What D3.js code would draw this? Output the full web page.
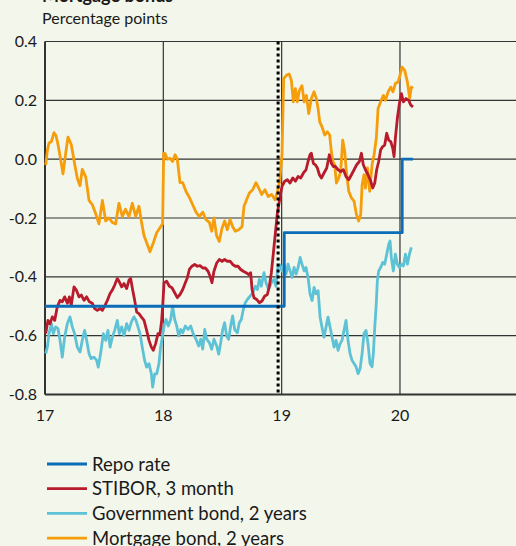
<!DOCTYPE html>
<html>
<head>
<meta charset="utf-8">
<script src="https://cdn.jsdelivr.net/npm/d3@7"></script>
<style>
    body { margin: 0; background: #f3f6ea; }
    #chart-area { width: 516px; height: 546px; }
    text { font-family: Lato, "Open Sans", sans-serif; fill: #1a1a1a; }
</style>
</head>
<body>
<div id="chart-area"></div>
<script>

// x values are decimal years (17 = start of 2017), y values in percent
var repoX = [17.0, 19.022, 20.019, 20.11];
var repoY = [-0.5, -0.25, 0.0, 0.0];

var stiborX = [17.006, 17.025, 17.042, 17.062, 17.082, 17.104, 17.127, 17.146, 17.166, 17.189, 17.206, 17.222, 17.245, 17.265, 17.287, 17.307, 17.33, 17.352, 17.375, 17.4, 17.42, 17.442, 17.465, 17.485, 17.507, 17.527, 17.55, 17.569, 17.589, 17.611, 17.628, 17.648, 17.668, 17.69, 17.71, 17.724, 17.741, 17.758, 17.775, 17.794, 17.814, 17.837, 17.859, 17.879, 17.899, 17.915, 17.935, 17.955, 17.972, 17.986, 17.996,
    18.006, 18.028, 18.051, 18.073, 18.096, 18.118, 18.141, 18.164, 18.186, 18.203, 18.22, 18.242, 18.265, 18.288, 18.31, 18.333, 18.355, 18.378, 18.395, 18.411, 18.428, 18.451, 18.473, 18.496, 18.518, 18.541, 18.564, 18.586, 18.609, 18.631, 18.654, 18.676, 18.699, 18.721, 18.738, 18.75, 18.766, 18.789, 18.811, 18.834, 18.856, 18.879, 18.896, 18.913, 18.93, 18.947, 18.964, 18.98,
    19.003, 19.026, 19.048, 19.071, 19.094, 19.116, 19.139, 19.161, 19.184, 19.206, 19.223, 19.24, 19.251, 19.268, 19.285, 19.302, 19.319, 19.336, 19.358, 19.381, 19.403, 19.42, 19.437, 19.454, 19.477, 19.499, 19.522, 19.544, 19.567, 19.59, 19.612, 19.634, 19.657, 19.674, 19.69, 19.708, 19.73, 19.753, 19.77, 19.787, 19.803, 19.82, 19.837, 19.854, 19.871, 19.888, 19.905, 19.922, 19.939, 19.95, 19.961, 19.978, 19.995, 20.012, 20.029, 20.051, 20.074, 20.091, 20.11];
var stiborY = [-0.593, -0.548, -0.56, -0.536, -0.548, -0.502, -0.48, -0.485, -0.468, -0.49, -0.468, -0.497, -0.434, -0.445, -0.468, -0.462, -0.48, -0.468, -0.485, -0.49, -0.508, -0.514, -0.508, -0.514, -0.497, -0.48, -0.457, -0.445, -0.428, -0.406, -0.417, -0.434, -0.423, -0.44, -0.411, -0.406, -0.445, -0.48, -0.52, -0.525, -0.536, -0.548, -0.582, -0.616, -0.639, -0.65, -0.627, -0.593, -0.593, -0.548, -0.49,
    -0.42, -0.415, -0.432, -0.437, -0.454, -0.471, -0.46, -0.443, -0.42, -0.403, -0.375, -0.364, -0.358, -0.364, -0.362, -0.37, -0.37, -0.381, -0.398, -0.42, -0.381, -0.353, -0.341, -0.347, -0.341, -0.347, -0.347, -0.358, -0.364, -0.364, -0.375, -0.381, -0.386, -0.392, -0.386, -0.443, -0.471, -0.477, -0.488, -0.482, -0.466, -0.46, -0.432, -0.386, -0.319, -0.251, -0.183, -0.145,
    -0.092, -0.075, -0.07, -0.081, -0.064, -0.075, -0.059, -0.064, -0.047, -0.036, -0.008, 0.015, 0.02, -0.014, -0.019, -0.03, -0.053, -0.064, -0.047, -0.03, 0.015, -0.014, -0.025, -0.025, -0.036, -0.042, -0.036, -0.059, -0.07, -0.053, -0.036, -0.019, -0.008, 0.02, -0.019, -0.036, -0.053, -0.075, -0.098, -0.081, -0.036, -0.008, 0.032, 0.043, 0.048, 0.088, 0.065, 0.06, 0.037, 0.009, 0.071, 0.139, 0.189, 0.223, 0.195, 0.206, 0.2, 0.184, 0.178];

var govX = [17.006, 17.02, 17.034, 17.054, 17.07, 17.09, 17.11, 17.127, 17.146, 17.166, 17.189, 17.211, 17.231, 17.25, 17.273, 17.296, 17.315, 17.335, 17.352, 17.372, 17.39, 17.414, 17.437, 17.45, 17.47, 17.493, 17.513, 17.532, 17.55, 17.569, 17.589, 17.611, 17.628, 17.648, 17.668, 17.69, 17.71, 17.73, 17.752, 17.769, 17.786, 17.803, 17.822, 17.842, 17.859, 17.879, 17.899, 17.91, 17.927, 17.944, 17.963, 17.977, 17.994,
    18.006, 18.023, 18.042, 18.062, 18.079, 18.096, 18.113, 18.13, 18.147, 18.164, 18.186, 18.209, 18.231, 18.254, 18.276, 18.299, 18.316, 18.333, 18.35, 18.366, 18.389, 18.409, 18.428, 18.451, 18.468, 18.485, 18.502, 18.518, 18.535, 18.552, 18.569, 18.586, 18.603, 18.626, 18.642, 18.659, 18.676, 18.693, 18.71, 18.733, 18.755, 18.778, 18.795, 18.811, 18.828, 18.851, 18.868, 18.89, 18.913, 18.935, 18.952, 18.969, 18.986,
    19.003, 19.02, 19.037, 19.054, 19.071, 19.088, 19.105, 19.122, 19.139, 19.156, 19.172, 19.19, 19.206, 19.223, 19.24, 19.257, 19.274, 19.29, 19.308, 19.325, 19.341, 19.358, 19.375, 19.392, 19.409, 19.426, 19.443, 19.46, 19.477, 19.494, 19.51, 19.527, 19.544, 19.561, 19.578, 19.595, 19.612, 19.629, 19.646, 19.663, 19.68, 19.696, 19.713, 19.73, 19.747, 19.764, 19.775, 19.787, 19.798, 19.809, 19.82, 19.837, 19.854, 19.871, 19.888, 19.905, 19.916, 19.927, 19.944, 19.961, 19.978, 19.995, 20.012, 20.029, 20.046, 20.063, 20.08, 20.096];
var govY = [-0.661, -0.639, -0.593, -0.559, -0.593, -0.57, -0.576, -0.616, -0.673, -0.605, -0.559, -0.536, -0.57, -0.593, -0.639, -0.656, -0.616, -0.582, -0.616, -0.661, -0.678, -0.673, -0.684, -0.707, -0.661, -0.593, -0.616, -0.582, -0.639, -0.605, -0.582, -0.548, -0.593, -0.57, -0.6, -0.559, -0.582, -0.553, -0.536, -0.548, -0.57, -0.593, -0.639, -0.684, -0.707, -0.695, -0.73, -0.775, -0.73, -0.73, -0.695, -0.639, -0.6,
    -0.567, -0.545, -0.567, -0.545, -0.5, -0.545, -0.567, -0.601, -0.579, -0.59, -0.567, -0.579, -0.567, -0.595, -0.612, -0.635, -0.612, -0.646, -0.579, -0.612, -0.624, -0.646, -0.612, -0.635, -0.663, -0.624, -0.579, -0.556, -0.601, -0.612, -0.567, -0.533, -0.579, -0.59, -0.556, -0.545, -0.511, -0.488, -0.477, -0.466, -0.454, -0.432, -0.443, -0.409, -0.432, -0.386, -0.42, -0.443, -0.42, -0.409, -0.432, -0.364, -0.36,
    -0.38, -0.357, -0.391, -0.357, -0.38, -0.402, -0.368, -0.391, -0.368, -0.334, -0.357, -0.38, -0.368, -0.402, -0.458, -0.481, -0.436, -0.458, -0.447, -0.537, -0.571, -0.605, -0.571, -0.537, -0.571, -0.605, -0.639, -0.616, -0.65, -0.627, -0.616, -0.582, -0.548, -0.616, -0.661, -0.684, -0.695, -0.706, -0.729, -0.712, -0.661, -0.593, -0.582, -0.627, -0.695, -0.706, -0.661, -0.571, -0.503, -0.413, -0.38, -0.368, -0.351, -0.357, -0.323, -0.289, -0.278, -0.334, -0.38, -0.323, -0.357, -0.368, -0.357, -0.363, -0.323, -0.357, -0.323, -0.3];

var mortX = [17.006, 17.02, 17.034, 17.054, 17.076, 17.093, 17.11, 17.132, 17.152, 17.175, 17.194, 17.222, 17.25, 17.273, 17.296, 17.315, 17.344, 17.372, 17.4, 17.428, 17.456, 17.485, 17.513, 17.54, 17.569, 17.597, 17.625, 17.654, 17.68, 17.71, 17.738, 17.766, 17.794, 17.814, 17.837, 17.865, 17.887, 17.915, 17.944, 17.977, 17.994,
    18.003, 18.014, 18.034, 18.056, 18.079, 18.099, 18.118, 18.141, 18.164, 18.192, 18.22, 18.248, 18.276, 18.304, 18.333, 18.36, 18.389, 18.409, 18.428, 18.45, 18.473, 18.496, 18.518, 18.541, 18.564, 18.586, 18.609, 18.637, 18.665, 18.682, 18.704, 18.727, 18.755, 18.783, 18.806, 18.831, 18.859, 18.887, 18.916, 18.944, 18.964, 18.984,
    19.003, 19.017, 19.04, 19.063, 19.082, 19.099, 19.116, 19.133, 19.15, 19.172, 19.19, 19.209, 19.229, 19.251, 19.274, 19.293, 19.308, 19.322, 19.341, 19.364, 19.386, 19.406, 19.42, 19.434, 19.448, 19.463, 19.482, 19.499, 19.516, 19.533, 19.547, 19.567, 19.59, 19.612, 19.632, 19.651, 19.668, 19.68, 19.696, 19.708, 19.725, 19.744, 19.764, 19.781, 19.8, 19.815, 19.837, 19.86, 19.877, 19.9, 19.922, 19.941, 19.961, 19.984, 20.0, 20.017, 20.04, 20.063, 20.082, 20.096, 20.11];
var mortY = [-0.02, 0.03, 0.055, 0.06, 0.09, 0.08, 0.05, 0.0, -0.05, 0.02, 0.075, 0.05, -0.015, -0.065, -0.09, -0.035, -0.06, -0.14, -0.155, -0.185, -0.22, -0.14, -0.21, -0.2, -0.215, -0.22, -0.15, -0.195, -0.17, -0.195, -0.15, -0.195, -0.16, -0.21, -0.26, -0.29, -0.315, -0.285, -0.25, -0.23, -0.22,
    0.02, 0.02, 0.0, 0.003, -0.008, 0.015, 0.0, -0.08, -0.08, -0.11, -0.13, -0.155, -0.18, -0.195, -0.18, -0.205, -0.215, -0.245, -0.2, -0.26, -0.28, -0.235, -0.21, -0.24, -0.205, -0.23, -0.245, -0.24, -0.23, -0.16, -0.138, -0.115, -0.104, -0.08, -0.098, -0.12, -0.104, -0.127, -0.12, -0.138, -0.11, -0.075,
    0.015, 0.274, 0.285, 0.29, 0.268, 0.195, 0.24, 0.195, 0.234, 0.25, 0.195, 0.217, 0.155, 0.206, 0.229, 0.206, 0.172, 0.127, 0.11, 0.082, 0.093, 0.082, 0.026, -0.008, -0.019, -0.081, -0.064, -0.042, 0.065, 0.026, -0.042, -0.109, -0.132, -0.143, -0.188, -0.21, -0.188, -0.087, -0.053, -0.098, -0.03, -0.109, -0.019, 0.015, 0.071, 0.172, 0.195, 0.217, 0.2, 0.229, 0.245, 0.229, 0.257, 0.262, 0.285, 0.313, 0.302, 0.262, 0.206, 0.245, 0.24];

var announcement = 18.97;

var xTicks = [17, 18, 19, 20];
var yTicks = [-0.8, -0.6, -0.4, -0.2, 0.0, 0.2, 0.4];

var seriesNames = ["Repo rate", "STIBOR, 3 month", "Government bond, 2 years", "Mortgage bond, 2 years"];
var seriesColors = ["#0b6db7", "#b81b2c", "#5ec2d6", "#f59d0a"];


lineChart = function(_parentElement){
    this.parentElement = _parentElement;
    this.initVis();
};

lineChart.prototype.initVis = function() {
    var vis = this;

    vis.width = 516;
    vis.height = 546;

    vis.svg = d3.select("#" + vis.parentElement).append("svg")
        .attr("width", vis.width)
        .attr("height", vis.height);

    vis.svg.append("rect")
        .attr("width", vis.width)
        .attr("height", vis.height)
        .attr("fill", "#f3f6ea");

    vis.x = d3.scaleLinear()
        .domain([17, 21])
        .range([45, 518.3]);

    vis.y = d3.scaleLinear()
        .domain([-0.8, 0.4])
        .range([394.5, 41.5]);

    // titles
    vis.svg.append("text")
        .attr("x", 42)
        .attr("y", 2)
        .style("font-size", "18px")
        .style("font-weight", "bold")
        .text("Mortgage bonds");

    vis.svg.append("text")
        .attr("x", 42)
        .attr("y", 24)
        .style("font-size", "16px")
        .text("Percentage points");

    // grid
    vis.svg.selectAll("line.hgrid")
        .data(yTicks)
        .enter().append("line")
        .attr("class", "hgrid")
        .attr("x1", vis.x(17))
        .attr("x2", vis.width)
        .attr("y1", function(d) { return vis.y(d); })
        .attr("y2", function(d) { return vis.y(d); })
        .attr("stroke", "#333")
        .attr("stroke-width", function(d) { return d == -0.8 ? 2 : 1.2; });

    vis.svg.selectAll("line.vgrid")
        .data(xTicks)
        .enter().append("line")
        .attr("class", "vgrid")
        .attr("x1", function(d) { return vis.x(d); })
        .attr("x2", function(d) { return vis.x(d); })
        .attr("y1", vis.y(0.4))
        .attr("y2", vis.y(-0.8))
        .attr("stroke", "#333")
        .attr("stroke-width", function(d) { return d == 17 ? 2 : 1.2; });

    // tick labels
    vis.svg.selectAll("text.ylab")
        .data(yTicks)
        .enter().append("text")
        .attr("class", "ylab")
        .attr("x", 37)
        .attr("y", function(d) { return vis.y(d) + 5.5; })
        .attr("text-anchor", "end")
        .style("font-size", "16px")
        .text(function(d) { return d3.format(".1f")(d).replace("−", "-"); });

    vis.svg.selectAll("text.xlab")
        .data(xTicks)
        .enter().append("text")
        .attr("class", "xlab")
        .attr("x", function(d) { return vis.x(d); })
        .attr("y", 421)
        .attr("text-anchor", "middle")
        .style("font-size", "16px")
        .text(function(d) { return d; });

    vis.updateVis();
};

lineChart.prototype.updateVis = function() {
    var vis = this;

    var series = [
        { x: govX, y: govY, color: seriesColors[2], curve: d3.curveLinear },
        { x: mortX, y: mortY, color: seriesColors[3], curve: d3.curveLinear },
        { x: stiborX, y: stiborY, color: seriesColors[1], curve: d3.curveLinear },
        { x: repoX, y: repoY, color: seriesColors[0], curve: d3.curveStepAfter }
    ];

    series.forEach(function(s) {
        var line = d3.line()
            .x(function(d, i) { return vis.x(s.x[i]); })
            .y(function(d) { return vis.y(d); })
            .curve(s.curve);

        vis.svg.append("path")
            .datum(s.y)
            .attr("d", line)
            .attr("fill", "none")
            .attr("stroke", s.color)
            .attr("stroke-width", 2.8)
            .attr("stroke-linejoin", "round");
    });

    // dotted line for the rate decision
    vis.svg.append("line")
        .attr("x1", vis.x(announcement))
        .attr("x2", vis.x(announcement))
        .attr("y1", vis.y(0.4))
        .attr("y2", vis.y(-0.8))
        .attr("stroke", "#000")
        .attr("stroke-width", 3)
        .attr("stroke-dasharray", "3,3");

    // legend
    var legend = vis.svg.selectAll("g.legend")
        .data(seriesNames)
        .enter().append("g")
        .attr("class", "legend")
        .attr("transform", function(d, i) { return "translate(47," + (464 + i * 24.7) + ")"; });

    legend.append("line")
        .attr("x1", 0)
        .attr("x2", 40)
        .attr("stroke", function(d, i) { return seriesColors[i]; })
        .attr("stroke-width", 2.8);

    legend.append("text")
        .attr("x", 45)
        .attr("y", 6.5)
        .style("font-size", "18.5px")
        .text(function(d) { return d; });
};

new lineChart("chart-area");

</script>
</body>
</html>
